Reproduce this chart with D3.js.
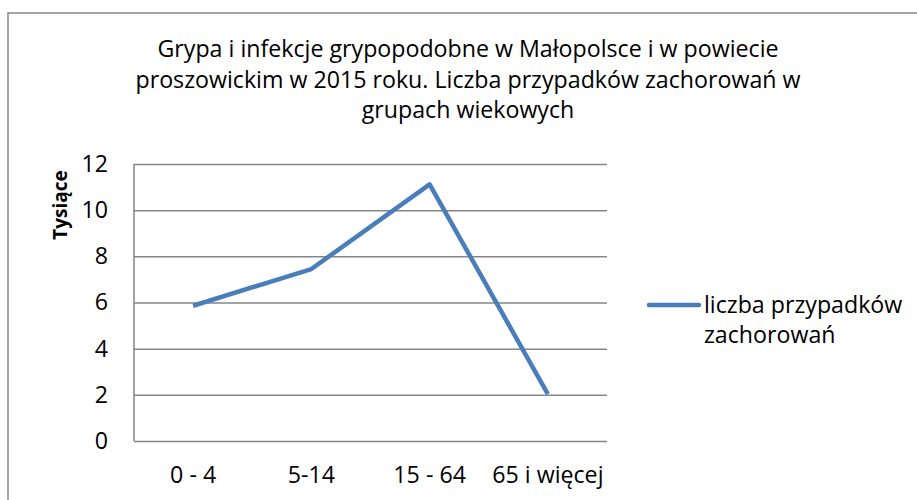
<!DOCTYPE html>
<html lang="pl">
<head>
<meta charset="UTF-8">
<title>Grypa w grupach wiekowych</title>
<script src="https://d3js.org/d3.v7.min.js"></script>
<style>
  body { margin: 0; background: #fff; }
  text { font-family: "Open Sans", sans-serif; fill: #000; }
</style>
</head>
<body>
<script>
  var categories = ["0 - 4", "5-14", "15 - 64", "65 i więcej"];
  var cases = [5.86, 7.45, 11.12, 2.03];
  var yTicks = [0, 2, 4, 6, 8, 10, 12];
  var titleLines = [
    "Grypa i infekcje grypopodobne w Małopolsce i w powiecie",
    "proszowickim w 2015 roku. Liczba przypadków zachorowań w",
    "grupach wiekowych"
  ];
  var seriesName = ["liczba przypadków", "zachorowań"];
  var yLabel = "Tysiące";

  var W = 917, H = 500;
  var plot = {left: 134, right: 607, top: 164, bottom: 441};
  var fs = "23.2px";

  var svg = d3.select("body").append("svg")
    .attr("width", W).attr("height", H);

  // outer chart frame (runs past the right and bottom edge)
  svg.append("rect")
    .attr("x", 8).attr("y", 13)
    .attr("width", W + 20).attr("height", H + 20)
    .attr("fill", "#fff").attr("stroke", "#868686").attr("stroke-width", 1.5);

  var x = d3.scaleBand().domain(categories).range([plot.left, plot.right]);
  var y = d3.scaleLinear().domain([0, 12]).range([plot.bottom, plot.top]);

  // title
  var title = svg.append("text").attr("text-anchor", "middle").style("font-size", fs);
  title.selectAll("tspan").data(titleLines).enter().append("tspan")
    .attr("x", 468)
    .attr("y", function(d, i) { return 57 + i * 30.7; })
    .text(function(d) { return d; });

  // gridlines
  var yAxis = d3.axisLeft(y).tickValues(yTicks).tickSize(-(plot.right - plot.left)).tickPadding(26);
  var gy = svg.append("g").attr("transform", "translate(" + plot.left + ",0)").call(yAxis);
  gy.select(".domain").remove();
  gy.selectAll(".tick line").attr("stroke", "#868686").attr("stroke-width", 1.5);
  gy.selectAll(".tick text").style("font-size", fs).attr("font-family", null);

  // left axis line
  svg.append("line")
    .attr("x1", plot.left).attr("x2", plot.left)
    .attr("y1", plot.top).attr("y2", plot.bottom)
    .attr("stroke", "#868686").attr("stroke-width", 1.5);

  var xAxis = d3.axisBottom(x).tickSize(0).tickPadding(26);
  var gx = svg.append("g").attr("transform", "translate(0," + plot.bottom + ")").call(xAxis);
  gx.select(".domain").remove();
  gx.selectAll(".tick text").style("font-size", fs).attr("font-family", null);

  // y axis title
  svg.append("text")
    .attr("transform", "translate(67,205) rotate(-90)")
    .attr("text-anchor", "middle")
    .style("font-size", "19px").style("font-weight", "bold")
    .text(yLabel);

  // series line
  var line = d3.line()
    .x(function(d, i) { return x(categories[i]) + x.bandwidth() / 2; })
    .y(function(d) { return y(d); });
  svg.append("path").datum(cases)
    .attr("d", line)
    .attr("fill", "none")
    .attr("stroke", "#4a7ebb")
    .attr("stroke-width", 4.5)
    .attr("stroke-linejoin", "round");

  // legend
  svg.append("line")
    .attr("x1", 649).attr("x2", 699).attr("y1", 305).attr("y2", 305)
    .attr("stroke", "#4a7ebb").attr("stroke-width", 4.5).attr("stroke-linecap", "round");
  var leg = svg.append("text").style("font-size", fs);
  leg.selectAll("tspan").data(seriesName).enter().append("tspan")
    .attr("x", 704)
    .attr("y", function(d, i) { return 313 + i * 30; })
    .text(function(d) { return d; });
</script>
</body>
</html>
